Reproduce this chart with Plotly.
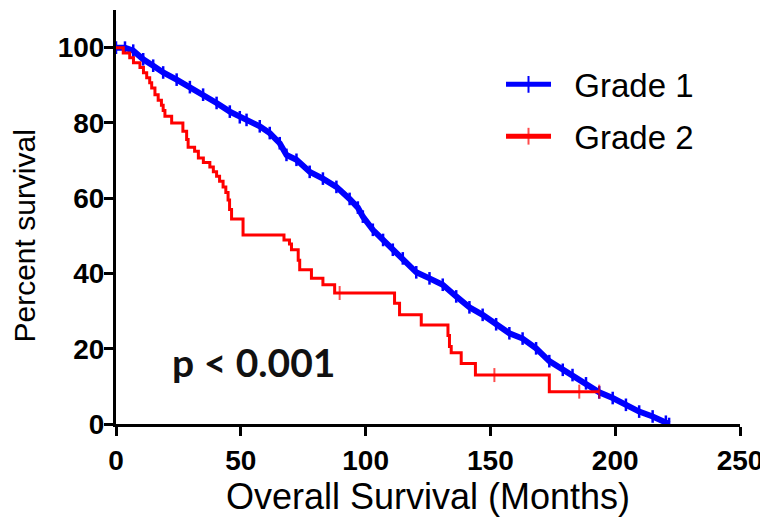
import plotly.graph_objects as go

# ---- data ----
blue_months = [0, 3.6, 6.9, 10.9, 14.9, 18.9, 24.3, 29.6, 34.9, 40.3, 45.6, 49.6,
               52.3, 57.6, 61.6, 65.6, 68.3, 72.3, 77.6, 82.9, 88.3, 93.6, 96.9,
               98.9, 102.9, 107, 110.9, 114.9, 120.3, 125.6, 130.9, 136.3, 141.6,
               146.9, 152.3, 157.6, 162.9, 168.3, 173.6, 179, 182.9, 188.3, 193.6,
               199, 204.3, 209.6, 215, 220.3, 221.6]
blue_surv = [100, 100, 99.2, 96.9, 95.2, 93.4, 91.5, 89.5, 87.5, 85.3, 83, 81.5,
             80.8, 79.1, 77.3, 74.6, 71.5, 70.2, 67, 65.2, 63, 59.8, 57.5,
             55.1, 51.6, 48.9, 46.3, 44, 40.3, 38.7, 37, 33.9, 31,
             29, 26.5, 24.1, 22.7, 20.1, 16.7, 14.4, 13, 10.8, 8.4,
             6.9, 5.1, 3.3, 2, 0.6, 0]

red_months = [0, 2.9, 5.5, 7.0, 9.6, 11.0, 12.3, 13.5, 14.3, 15.6, 16.9, 18.2, 18.9,
              19.6, 22.3, 26.8, 28.3, 28.9, 31.5, 33.0, 35.0, 37.6, 39.0, 40.3, 41.5,
              42.9, 44.0, 44.9, 45.5, 46.3, 50.9, 67.3, 69.5, 70.3, 73.0, 73.6, 78.3,
              82.9, 87.6, 89.6, 111.6, 113.6, 122.3, 133.0, 133.6, 134.3, 138.3,
              144.0, 151.6, 173.6, 185.6, 193.6]
red_surv = [100, 98.6, 97.3, 96, 94.7, 93.3, 92, 90.7, 89.3, 87.5, 86, 84.7, 83.3,
            81.8, 80, 77.8, 75.6, 73.5, 72.5, 70.7, 69.5, 68.3, 67, 65.8, 64.5,
            63, 61.5, 59.5, 57, 54.5, 50.2, 48.9, 47.8, 46.3, 43.5, 41, 38.7,
            37, 34.8, 34.8, 32.1, 29, 26.3, 23.5, 20.6, 18.9, 16.1,
            13, 13, 8.6, 8.6, 8.6]
red_censored = [0] * 39 + [1] + [0] * 8 + [1, 0, 1, 1]

x_ticks = [0, 50, 100, 150, 200, 250]
y_ticks = [0, 20, 40, 60, 80, 100]

x_title = "Overall Survival (Months)"
y_title = "Percent survival"
p_text = "p &lt; 0.001"

BLUE = "#0000ff"
RED = "#ff0000"
NB = "\u00a0"

fig = go.Figure()
fig.add_trace(go.Scatter(
    x=blue_months, y=blue_surv, mode="lines+markers", name=NB * 2 + "Grade 1",
    legendgroup="g1",
    line=dict(color=BLUE, width=6),
    marker=dict(symbol="line-ns", size=9, color=BLUE, line=dict(color=BLUE, width=2.5)),
))
fig.add_trace(go.Scatter(
    x=red_months, y=red_surv, mode="lines+markers", name=NB * 2 + "Grade 2",
    legendgroup="g2",
    line=dict(color=RED, width=3, shape="hv"),
    marker=dict(symbol="line-ns", size=[10 if c else 0 for c in red_censored],
                color=RED, line=dict(color=RED, width=2)),
))

fig.add_annotation(
    x=55.0, y=16.6, xref="x", yref="y", text="<b>" + p_text + "</b>",
    showarrow=False, font=dict(family="Lato, Open Sans, sans-serif", size=39, color="#111111"),
)

# y-axis title, placed as a rotated text so it can sit below the plot centre
fig.add_annotation(
    x=-0.146, y=0.455, xref="paper", yref="paper", text=y_title,
    textangle=-90, showarrow=False, xanchor="center", yanchor="middle",
    font=dict(family="Liberation Sans, Arial, sans-serif", size=30, color="black"),
)

axis_common = dict(
    showline=True, linecolor="black", linewidth=3,
    ticks="outside", ticklen=9, tickwidth=3, tickcolor="black",
    showgrid=False, zeroline=False, automargin=False,
    tickfont=dict(family="Liberation Sans, Arial, sans-serif", size=28, color="black", weight="bold"),
)

# the page body adds an 8px offset, so the figure is 8px smaller than the window
fig.update_layout(
    width=760, height=521,
    margin=dict(l=108, r=28, t=2, b=105),
    paper_bgcolor="white", plot_bgcolor="white",
    font=dict(family="Liberation Sans, Arial, sans-serif", color="black"),
    xaxis=dict(range=[0, 250], tickvals=x_ticks, **axis_common,
               title=dict(text=x_title,
                          font=dict(size=36, color="black"), standoff=7)),
    yaxis=dict(range=[0, 110], tickvals=y_ticks, ticklabelstandoff=-6, **axis_common),
    legend=dict(x=0.617, y=0.888, xanchor="left", yanchor="top",
                font=dict(size=33, color="black"), bgcolor="rgba(0,0,0,0)",
                traceorder="grouped", tracegroupgap=6, itemsizing="constant",
                itemwidth=45),
    showlegend=True,
)

fig.write_html("out.html")
